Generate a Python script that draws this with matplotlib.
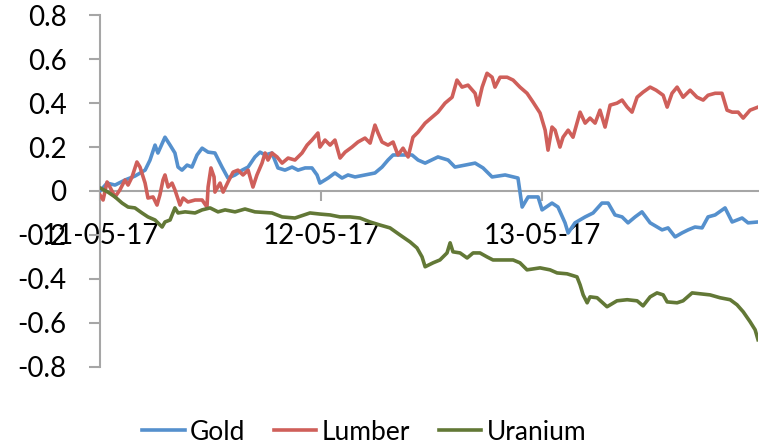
import matplotlib
matplotlib.use('Agg')
import matplotlib.pyplot as plt

plt.rcParams['font.family'] = ['Lato', 'DejaVu Sans']

# x positions in days since 11-05-17
gold_days = [0.000, 0.032, 0.068, 0.113, 0.158, 0.204, 0.226, 0.249, 0.262, 0.294,
             0.317, 0.339, 0.353, 0.371, 0.394, 0.416, 0.439, 0.462, 0.489, 0.520,
             0.552, 0.579, 0.611, 0.643, 0.670, 0.701, 0.724, 0.747, 0.778, 0.805,
             0.837, 0.869, 0.896, 0.928, 0.959, 0.982, 0.995, 1.032, 1.063, 1.095,
             1.122, 1.154, 1.199, 1.244, 1.276, 1.303, 1.326, 1.367, 1.412, 1.439,
             1.471, 1.529, 1.575, 1.606, 1.652, 1.697, 1.733, 1.774, 1.833, 1.891,
             1.910, 1.937, 1.982, 2.000, 2.045, 2.072, 2.104, 2.118, 2.149, 2.195,
             2.231, 2.271, 2.299, 2.330, 2.362, 2.389, 2.421, 2.452, 2.489, 2.543,
             2.570, 2.602, 2.633, 2.661, 2.692, 2.724, 2.751, 2.783, 2.828, 2.860,
             2.905, 2.932, 2.977]
gold = [0.000, 0.036, 0.027, 0.050, 0.068, 0.095, 0.140, 0.209, 0.173, 0.245,
        0.209, 0.173, 0.109, 0.095, 0.118, 0.109, 0.164, 0.195, 0.177, 0.173,
        0.109, 0.059, 0.073, 0.095, 0.109, 0.155, 0.177, 0.164, 0.173, 0.105,
        0.095, 0.109, 0.095, 0.105, 0.105, 0.073, 0.036, 0.059, 0.082, 0.059,
        0.073, 0.064, 0.073, 0.082, 0.109, 0.141, 0.164, 0.164, 0.164, 0.141,
        0.127, 0.155, 0.141, 0.109, 0.118, 0.127, 0.105, 0.064, 0.073, 0.059,
        -0.073, -0.027, -0.027, -0.086, -0.055, -0.073, -0.145, -0.191, -0.145, -0.118,
        -0.100, -0.055, -0.055, -0.109, -0.118, -0.145, -0.118, -0.095, -0.145, -0.177,
        -0.168, -0.209, -0.191, -0.177, -0.164, -0.168, -0.118, -0.109, -0.077, -0.141,
        -0.123, -0.145, -0.141]

lumber_days = [0.000, 0.014, 0.032, 0.045, 0.068, 0.090, 0.113, 0.127, 0.145, 0.167,
               0.181, 0.204, 0.217, 0.240, 0.258, 0.271, 0.285, 0.294, 0.308, 0.326,
               0.339, 0.362, 0.376, 0.398, 0.430, 0.462, 0.484, 0.489, 0.502, 0.516,
               0.520, 0.543, 0.557, 0.579, 0.602, 0.624, 0.647, 0.670, 0.692, 0.710,
               0.733, 0.747, 0.760, 0.778, 0.801, 0.824, 0.851, 0.882, 0.914, 0.937,
               0.959, 0.986, 0.995, 1.018, 1.041, 1.063, 1.086, 1.109, 1.140, 1.167,
               1.199, 1.222, 1.244, 1.258, 1.276, 1.303, 1.326, 1.348, 1.371, 1.394,
               1.416, 1.439, 1.471, 1.502, 1.529, 1.561, 1.593, 1.615, 1.638, 1.665,
               1.697, 1.710, 1.729, 1.751, 1.774, 1.787, 1.810, 1.842, 1.869, 1.900,
               1.932, 1.959, 1.991, 2.014, 2.027, 2.045, 2.059, 2.081, 2.095, 2.118,
               2.140, 2.172, 2.195, 2.217, 2.240, 2.262, 2.285, 2.308, 2.339, 2.362,
               2.385, 2.407, 2.430, 2.457, 2.489, 2.516, 2.548, 2.566, 2.588, 2.611,
               2.638, 2.670, 2.701, 2.729, 2.751, 2.783, 2.814, 2.837, 2.860, 2.887,
               2.910, 2.941, 2.977]
lumber = [-0.018, -0.041, 0.041, 0.018, -0.027, 0.005, 0.050, 0.027, 0.064, 0.132,
          0.109, 0.036, -0.032, -0.027, -0.064, -0.018, 0.050, 0.073, 0.018, 0.036,
          0.005, -0.064, -0.032, -0.050, -0.041, -0.041, -0.073, 0.018, 0.105, 0.064,
          -0.005, 0.036, -0.005, 0.041, 0.086, 0.095, 0.073, 0.095, 0.018, 0.073,
          0.127, 0.173, 0.141, 0.173, 0.155, 0.127, 0.150, 0.141, 0.173, 0.209,
          0.232, 0.264, 0.200, 0.232, 0.209, 0.232, 0.150, 0.177, 0.200, 0.223,
          0.241, 0.218, 0.300, 0.264, 0.223, 0.209, 0.223, 0.164, 0.195, 0.155,
          0.245, 0.268, 0.309, 0.336, 0.359, 0.400, 0.427, 0.505, 0.473, 0.482,
          0.445, 0.391, 0.473, 0.536, 0.518, 0.473, 0.518, 0.518, 0.505, 0.473,
          0.445, 0.405, 0.355, 0.277, 0.186, 0.291, 0.277, 0.200, 0.245, 0.277,
          0.245, 0.359, 0.309, 0.332, 0.309, 0.368, 0.291, 0.391, 0.400, 0.414,
          0.382, 0.359, 0.427, 0.450, 0.473, 0.459, 0.436, 0.382, 0.445, 0.473,
          0.427, 0.459, 0.427, 0.414, 0.436, 0.445, 0.445, 0.368, 0.359, 0.359,
          0.332, 0.368, 0.382]

uranium_days = [0.000, 0.036, 0.068, 0.100, 0.127, 0.158, 0.190, 0.217, 0.249, 0.281,
                0.294, 0.317, 0.339, 0.353, 0.385, 0.430, 0.462, 0.498, 0.534, 0.566,
                0.611, 0.656, 0.701, 0.778, 0.824, 0.882, 0.950, 0.995, 1.041, 1.086,
                1.131, 1.176, 1.222, 1.267, 1.312, 1.357, 1.403, 1.434, 1.457, 1.471,
                1.507, 1.538, 1.570, 1.584, 1.597, 1.629, 1.661, 1.688, 1.719, 1.751,
                1.778, 1.824, 1.869, 1.900, 1.932, 1.991, 2.036, 2.068, 2.113, 2.158,
                2.172, 2.186, 2.204, 2.217, 2.249, 2.294, 2.339, 2.385, 2.430, 2.457,
                2.489, 2.520, 2.548, 2.566, 2.611, 2.638, 2.679, 2.715, 2.760, 2.805,
                2.851, 2.882, 2.910, 2.941, 2.964, 2.977]
uranium = [0.014, -0.005, -0.027, -0.055, -0.073, -0.077, -0.100, -0.118, -0.132, -0.164,
           -0.141, -0.132, -0.077, -0.100, -0.095, -0.100, -0.086, -0.077, -0.095, -0.086,
           -0.095, -0.082, -0.095, -0.100, -0.118, -0.123, -0.100, -0.105, -0.109, -0.118,
           -0.118, -0.123, -0.141, -0.155, -0.168, -0.200, -0.232, -0.259, -0.300, -0.345,
           -0.327, -0.314, -0.282, -0.236, -0.277, -0.282, -0.305, -0.282, -0.282, -0.300,
           -0.314, -0.314, -0.314, -0.327, -0.359, -0.350, -0.359, -0.373, -0.377, -0.391,
           -0.427, -0.473, -0.509, -0.482, -0.486, -0.527, -0.500, -0.495, -0.500, -0.523,
           -0.482, -0.464, -0.473, -0.505, -0.509, -0.500, -0.464, -0.468, -0.473, -0.486,
           -0.495, -0.518, -0.550, -0.595, -0.632, -0.677]

date_ticks = [0, 1, 2]
date_labels = ['11-05-17', '12-05-17', '13-05-17']

fig = plt.figure(figsize=(7.59, 4.46), dpi=100)
ax = fig.add_axes([100 / 759, 1 - 366.7 / 446, 658 / 759, 351.4 / 446])

ax.plot(gold_days, gold, color='#5590CD', lw=2.6, label='Gold')
ax.plot(lumber_days, lumber, color='#CF5F5A', lw=2.6, label='Lumber')
ax.plot(uranium_days, uranium, color='#627836', lw=2.6, label='Uranium')

ax.set_xlim(0, 2.977)
ax.set_ylim(-0.8, 0.8)
ax.set_yticks([-0.8, -0.6, -0.4, -0.2, 0, 0.2, 0.4, 0.6, 0.8])
ax.set_yticklabels(['-0.8', '-0.6', '-0.4', '-0.2', '0', '0.2', '0.4', '0.6', '0.8'])
ax.set_xticks(date_ticks)
ax.set_xticklabels(date_labels)

for side in ['top', 'right']:
    ax.spines[side].set_visible(False)
ax.spines['bottom'].set_position(('data', 0))
for side in ['left', 'bottom']:
    ax.spines[side].set_color('#A6A6A6')
    ax.spines[side].set_linewidth(1.5)
    ax.spines[side].set_zorder(0)

ax.tick_params(axis='y', direction='out', length=8, width=1.5, color='#A6A6A6',
               labelsize=20, pad=16)
ax.tick_params(axis='x', direction='out', length=7, width=1.5, color='#A6A6A6',
               labelsize=20, pad=16)

fig.legend(loc='center', bbox_to_anchor=(0.48, 0.031), ncol=3, frameon=False,
           fontsize=19, handlelength=1.6, handletextpad=0.2, columnspacing=1.1)

fig.savefig('out.png', dpi=100)
